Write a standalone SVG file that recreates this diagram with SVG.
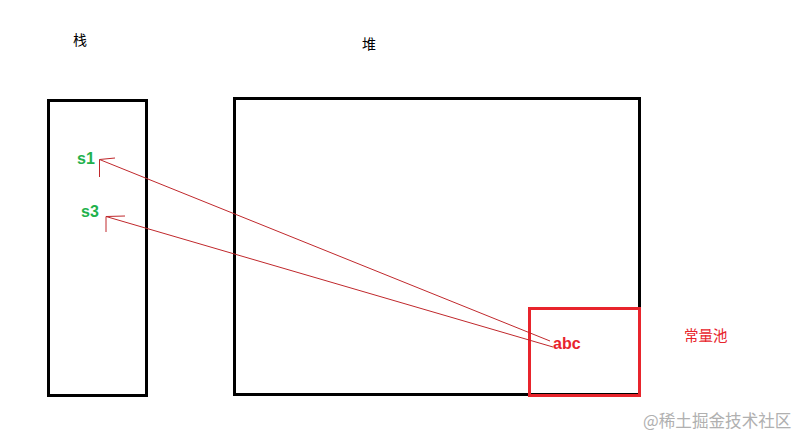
<svg xmlns="http://www.w3.org/2000/svg" width="807" height="447" viewBox="0 0 807 447">
<style>
.box{fill:none;stroke:#000;stroke-width:3}
.pool{fill:none;stroke:#e8242c;stroke-width:3}
.lbl{font-family:"Noto Sans CJK SC","Liberation Sans",sans-serif;font-size:14px;fill:#000}
.var{font-family:"Liberation Sans",sans-serif;font-size:16px;font-weight:bold;fill:#22b14c}
.str{font-family:"Liberation Sans",sans-serif;font-size:16px;font-weight:bold;fill:#e8242c}
.conn{stroke:#c0282c;stroke-width:1;fill:none}
</style>
<rect width="807" height="447" fill="#fff"/>
<g id="stack">
<rect class="box" x="48.5" y="100.5" width="98" height="295"/>
<text class="lbl" x="73" y="45">栈</text>
<text class="var" x="77" y="164">s1</text>
<text class="var" x="81" y="217">s3</text>
</g>
<g id="heap">
<rect class="box" x="234.5" y="98.5" width="405" height="296"/>
<text class="lbl" x="362" y="49">堆</text>
</g>
<g id="pool">
<rect class="pool" x="529.5" y="308.5" width="110" height="87"/>
<text class="str" x="553" y="349">abc</text>
<text class="lbl" x="684" y="341" style="fill:#e8242c;font-size:14.5px">常量池</text>
</g>
<g id="connectors">
<path class="conn" d="M550 341 L99.5 159.5 M99.5 159.5 L115 158 M99.5 159.5 L99.5 177"/>
<path class="conn" d="M553 347 L106 216.5 M106 216.5 L125 216 M106 216.5 L106 232"/>
</g>
<text x="643" y="427" style="font-family:'Noto Sans CJK SC',sans-serif;font-size:16.6px;fill:#b0b0b0">@稀土掘金技术社区</text>
</svg>
